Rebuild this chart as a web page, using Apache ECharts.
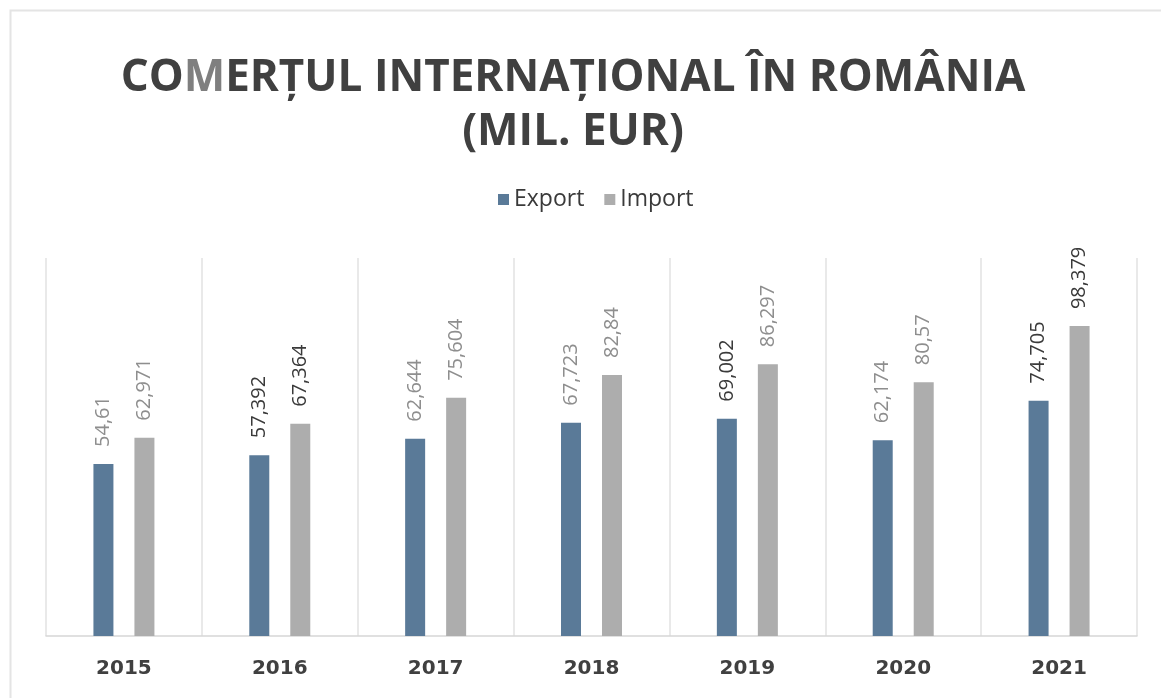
<!DOCTYPE html>
<html>
<head>
<meta charset="utf-8">
<script src="https://cdn.jsdelivr.net/npm/echarts@6/dist/echarts.min.js"></script>
<style>
html,body{margin:0;padding:0;background:#fff;}
#chart{width:1161px;height:698px;}
</style>
</head>
<body>
<div id="chart"></div>
<script>
const years = ['2015','2016','2017','2018','2019','2020','2021'];
const exportValues = [54.61, 57.392, 62.644, 67.723, 69.002, 62.174, 74.705];
const importValues = [62.971, 67.364, 75.604, 82.84, 86.297, 80.57, 98.379];
const exportLabelDark = [false, true, false, false, true, false, true];
const importLabelDark = [false, true, false, false, false, false, true];

function fmt(v) { return String(v).replace('.', ','); }

function buildData(values, darkFlags) {
  return values.map((v, i) => ({
    value: v,
    label: { color: darkFlags[i] ? '#3a3a3a' : '#8e8e8e' }
  }));
}

const chart = echarts.init(document.getElementById('chart'), null, {renderer: 'canvas'});
const labelCfg = {
  show: true,
  position: 'top',
  rotate: 90,
  align: 'left',
  verticalAlign: 'middle',
  distance: 17,
  fontFamily: 'Open Sans',
  fontSize: 20,
  formatter: p => fmt(p.value)
};

chart.setOption({
  backgroundColor: '#ffffff',
  animation: false,
  graphic: [{
    type: 'rect',
    shape: {x: 10.5, y: 10.5, width: 1300, height: 900},
    style: {fill: 'none', stroke: '#e4e4e4', lineWidth: 2},
    silent: true
  }],
  title: {
    text: '{a|CO}{m|M}{a|ERȚUL INTERNAȚIONAL ÎN ROMÂNIA}\n{a|(MIL. EUR)}',
    left: 568,
    textAlign: 'center',
    top: 46,
    textStyle: {
      rich: {
        a: {fontFamily: 'Open Sans', fontWeight: 'bold', fontSize: 44, color: '#404040', lineHeight: 54},
        m: {fontFamily: 'Open Sans', fontWeight: 'bold', fontSize: 44, color: '#7f7f7f', lineHeight: 54}
      }
    }
  },
  legend: {
    data: ['Export', 'Import'],
    top: 183,
    left: 493,
    icon: 'rect',
    itemWidth: 11,
    itemHeight: 11,
    itemGap: 20,
    textStyle: {fontFamily: 'Open Sans', fontSize: 23, color: '#3a3a3a'}
  },
  grid: {left: 46, right: 24, top: 258, bottom: 62, containLabel: false},
  xAxis: {
    type: 'category',
    data: years,
    axisLine: {show: true, lineStyle: {color: '#d6d6d6', width: 1.5}},
    axisTick: {show: false},
    splitLine: {show: true, lineStyle: {color: '#e2e2e2', width: 1.5}},
    axisLabel: {
      fontFamily: 'DejaVu Sans', fontWeight: 'bold', fontSize: 20, color: '#404040', margin: 23
    }
  },
  yAxis: {
    type: 'value',
    min: 0,
    max: 120,
    show: false,
    splitLine: {show: false}
  },
  series: [
    {
      name: 'Export',
      type: 'bar',
      data: buildData(exportValues, exportLabelDark),
      barWidth: 20,
      barGap: '105%',
      itemStyle: {color: '#5a7a98'},
      label: labelCfg
    },
    {
      name: 'Import',
      type: 'bar',
      data: buildData(importValues, importLabelDark),
      barWidth: 20,
      itemStyle: {color: '#adadad'},
      label: labelCfg
    }
  ]
});
</script>
</body>
</html>
